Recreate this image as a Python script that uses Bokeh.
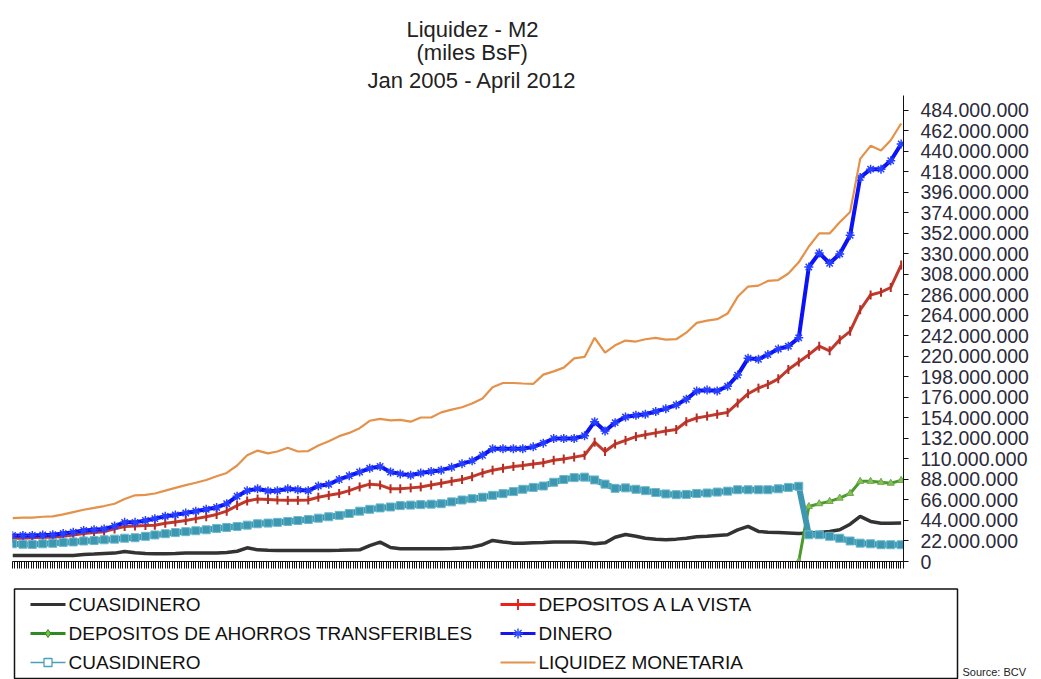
import math
import pandas as pd
from datetime import datetime
from bokeh.plotting import figure
from bokeh.models import (Range1d, FixedTicker, CustomJSTickFormatter, ColumnDataSource, Title)
from bokeh.embed import file_html
from bokeh.resources import INLINE
from bokeh.core.properties import value

NaN = float("nan")

# ---------------- data (millions of miles BsF), monthly Jan 2005 - Apr 2012 -------------
months = pd.date_range("2005-01-01", "2012-04-01", freq="MS")

cuasidinero_negro = [
    6.5, 6.5, 6.5, 6.5, 6.5, 6.5, 6.5, 7.5, 8, 8.5,
    9, 10.8, 9.5, 8.5, 8.2, 8.2, 8.5, 9, 9, 9,
    9.2, 9.7, 11, 14.7, 12.5, 12, 11.8, 11.8, 11.8, 11.8,
    11.8, 11.8, 12, 12.3, 12.5, 17, 20.8, 15, 13.6, 13.6,
    13.6, 13.6, 13.6, 14, 14.5, 15.4, 18, 22.6, 21, 19.7,
    19.7, 20, 20.3, 20.8, 20.8, 20.8, 20.5, 19, 20, 26,
    29, 27, 25, 24, 23.3, 24, 25, 26.5, 27, 28,
    28.7, 34, 37.7, 32.3, 31.5, 31, 30.5, 30, 30.5, 31,
    32.3, 34, 40, 48.4, 43, 41, 41, 41.2,
]

depositos_vista = [
    25, 25, 25.5, 26, 26, 27, 28.5, 30, 31, 32,
    35, 37.5, 38, 38.5, 39, 41, 42.5, 44, 46, 48,
    50.5, 54, 60, 65, 67, 66.5, 66, 65.6, 65.6, 66,
    69, 71, 73, 76, 80, 83, 82, 78, 78, 79,
    80, 82, 84, 86, 88, 91, 95, 98, 100, 102,
    103, 104.5, 106, 108.6, 110, 112, 114, 128, 118, 126,
    130, 134, 136, 138, 140, 141.6, 150, 154, 156, 158,
    160, 170, 180, 186, 190, 196, 206, 214, 222, 231,
    226, 238, 247, 270, 286, 289, 294, 318,
]

depositos_ahorro = [NaN] * 77 + [0, 59, 62, 64.5, 68, 73, 86, 86, 85, 84, 87]

dinero = [
    28, 28, 28, 28.5, 28.7, 30, 31.5, 33.3, 34, 35,
    38, 42, 42, 44, 46, 48.5, 50, 52, 54, 56,
    58, 62, 70, 76, 78, 75.6, 76, 78, 77, 76,
    81, 82.8, 88, 92, 96, 100, 102, 96, 94, 92.5,
    95, 96.5, 98, 101, 105, 108, 114, 121, 121, 121,
    121, 123, 127, 132, 132, 132, 135, 150, 140, 149,
    155, 157, 158, 161, 164, 168, 174, 183, 184, 183,
    188, 200, 218, 217, 222, 228, 231, 240, 316, 331,
    320, 330, 350, 412, 421, 421, 430, 448,
]

cuasidinero = [
    19, 18.5, 18.3, 19, 19.5, 20.5, 21, 22, 22.5, 23.3,
    24, 25, 25.5, 27, 28.5, 29.8, 31, 32, 33, 34,
    35.5, 36.5, 37.6, 39, 40.5, 41.2, 42, 43, 44, 45,
    46.5, 48, 49.5, 51.5, 54, 56, 57.5, 58.5, 60, 60.5,
    61, 61.5, 62, 64, 66, 67.4, 69, 71, 72.8, 75,
    77.5, 79.5, 81, 85, 88, 90, 90.5, 87.5, 83, 78.5,
    79, 77.5, 76, 74, 72.5, 71.7, 72, 73, 73.5, 74.5,
    75.5, 77, 77, 77, 77, 78, 79.5, 80.7, 28.7, 28.7,
    27, 25, 22, 19.7, 19, 18, 18, 18,
]

liquidez = [
    46.5, 47, 47, 48, 48.5, 50.5, 53, 55.5, 57.5, 59.5,
    62, 67, 71, 71.5, 73, 76, 79, 82, 84.5, 87.5,
    91.5, 95, 103, 114, 119, 116, 118, 122, 118, 118.5,
    124.5, 129, 134.5, 138, 143, 151, 153, 151.5, 152, 150,
    154.5, 154.5, 160, 163, 165.5, 169.5, 175, 187, 191.5, 191.5,
    191, 190.5, 200.5, 204, 208, 218, 219.5, 240, 224, 232,
    237, 236, 238.5, 240, 238, 238.5, 245.5, 256, 258.5, 260,
    266, 284, 295, 296, 301, 302, 309, 321, 338, 352,
    352, 364, 375, 432, 446, 441, 452, 470,
]

series_names = ["CUASIDINERO", "DEPOSITOS A LA VISTA", "DEPOSITOS DE AHORROS TRANSFERIBLES",
                "DINERO", "CUASIDINERO", "LIQUIDEZ MONETARIA"]

y_ticks = list(range(0, 485, 22))  # millions
title_lines = ["Liquidez - M2", "(miles BsF)", "Jan 2005 - April 2012"]
source_text = "Source: BCV"

# ---------------- main chart ----------------
FONT = "Liberation Sans"
x_start = datetime(2005, 1, 1)
x_end = datetime(2012, 4, 8)

p = figure(width=1041, height=580, x_axis_type="datetime", y_axis_location="right",
           x_range=Range1d(x_start, x_end), y_range=Range1d(0, 500),
           output_backend="svg", toolbar_location=None,
           min_border_left=12, min_border_right=138, min_border_top=95, min_border_bottom=19)
p.outline_line_color = None
p.xgrid.visible = False
p.ygrid.visible = False
p.background_fill_color = "white"

src = ColumnDataSource(dict(x=months, negro=cuasidinero_negro, vista=depositos_vista,
                            ahorro=depositos_ahorro, dinero=dinero, cuasi=cuasidinero,
                            liq=liquidez))

p.line("x", "negro", source=src, line_color="#333333", line_width=3.5)
p.line("x", "vista", source=src, line_color="#c0392b", line_width=3)
p.scatter("x", "vista", source=src, marker="dash", angle=math.pi / 2, size=9,
          line_color="#b52d25", line_width=2)
p.line("x", "ahorro", source=src, line_color="#4a9a30", line_width=3)
p.scatter("x", "ahorro", source=src, marker="triangle", size=7,
          fill_color="#8cc152", line_color="#6aa84f")
p.line("x", "dinero", source=src, line_color="#0b12f5", line_width=4)
p.scatter("x", "dinero", source=src, marker="asterisk", size=9,
          line_color="#2740ff", line_width=1.5)
p.line("x", "cuasi", source=src, line_color="#3d97b1", line_width=6)
p.scatter("x", "cuasi", source=src, marker="square", size=8,
          fill_color="#3d97b1", line_color="#6cb9cc", line_width=1)
p.line("x", "liq", source=src, line_color="#e4914a", line_width=2.2)

# x axis: weekly category ticks, no labels
weeks = pd.date_range(x_start, x_end, freq="7D")
p.xaxis.ticker = FixedTicker(ticks=[d.timestamp() * 1000 for d in weeks], minor_ticks=[])
p.xaxis.formatter = CustomJSTickFormatter(code="return '';")
p.xaxis.major_label_text_font_size = "4px"
p.xaxis.major_label_standoff = 0
p.xaxis.major_tick_out = 7
p.xaxis.major_tick_in = 0
p.xaxis.major_tick_line_color = "#111111"
p.xaxis.axis_line_color = "#111111"
p.xaxis.minor_tick_line_color = None

# y axis
p.yaxis.ticker = FixedTicker(ticks=y_ticks, minor_ticks=[])
p.yaxis.formatter = CustomJSTickFormatter(code="""
    const v = Math.round(tick * 1000000);
    return v.toString().replace(/\\B(?=(\\d{3})+(?!\\d))/g, '.');
""")
p.yaxis.major_label_text_font = FONT
p.yaxis.major_label_text_font_size = "19.5px"
p.yaxis.major_label_text_color = "#2b2b3a"
p.yaxis.major_label_standoff = 12
p.yaxis.major_tick_out = 5
p.yaxis.major_tick_in = 0
p.yaxis.minor_tick_line_color = None
p.yaxis.axis_line_color = "#111111"
p.yaxis.major_tick_line_color = "#111111"

# titles (first added sits closest to the frame)
for t, so, off in zip(reversed(title_lines), [5.5, -4.5, -4.5], [355, 404, 394]):
    p.add_layout(Title(text=t, align="left", offset=off, standoff=so,
                       text_font=FONT, text_font_size="22px", text_font_style="normal",
                       text_color="#222222"), "above")

# ---------------- legend panel (separate root, page coordinates 580..679) ----------------
leg = figure(width=1041, height=99, x_range=Range1d(0, 1041), y_range=Range1d(679, 580),
             x_axis_type=None, y_axis_type=None, output_backend="svg",
             toolbar_location=None, min_border=0)
leg.outline_line_color = None
leg.grid.visible = False

leg.quad(left=[14], right=[957], top=[588.5], bottom=[678], fill_color=None,
         line_color="#111111", line_width=1.5)

lx = [30, 500, 30, 500, 30, 500]
ly = [604, 604, 633, 633, 662, 662]
lcol = ["#333333", "#e8231c", "#2e8b22", "#1515ee", "#4aa0b8", "#e4914a"]
lw = [3, 3, 3, 3, 1.5, 2.2]
leg.segment(x0=lx, y0=ly, x1=[v + 35 for v in lx], y1=ly, line_color=lcol, line_width=lw)
leg.scatter(x=[lx[1] + 17.5], y=[ly[1]], marker="dash", angle=math.pi / 2, size=11,
            line_color="#e8231c", line_width=2)
leg.scatter(x=[lx[2] + 17.5], y=[ly[2]], marker="diamond", size=8,
            fill_color="#7cc050", line_color="#2e8b22")
leg.scatter(x=[lx[3] + 17.5], y=[ly[3]], marker="asterisk", size=10,
            line_color="#3050ff", line_width=1.5)
leg.scatter(x=[lx[4] + 17.5], y=[ly[4]], marker="square", size=8,
            fill_color="white", line_color="#4aa0b8", line_width=1.3)

leg.text(x=[v + 38 for v in lx], y=ly, text=series_names, text_font=value(FONT),
         text_font_size="19px", text_baseline="middle", text_color="#111111")
leg.text(x=[962], y=[665], text=[source_text], text_font=value(FONT),
         text_font_size="11px", text_baseline="top", text_color="#222222")

open("out.html", "w").write(file_html([p, leg], INLINE))
